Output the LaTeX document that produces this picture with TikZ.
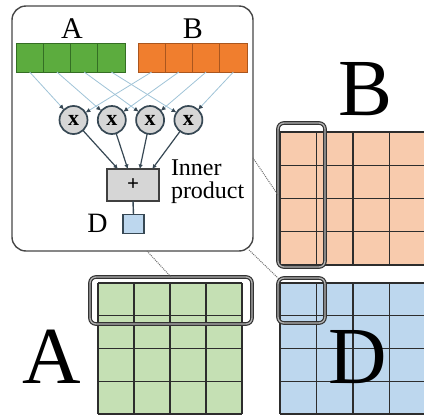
\documentclass[tikz,border=0pt]{standalone}
\usepackage{fontspec}
\setmainfont{Liberation Serif}
\usetikzlibrary{calc,arrows.meta}

\definecolor{barGreen}{RGB}{92,172,62}
\definecolor{barGreenEdge}{RGB}{52,110,36}
\definecolor{barOrange}{RGB}{240,126,46}
\definecolor{barOrangeEdge}{RGB}{170,86,30}
\definecolor{cellGreen}{RGB}{197,224,180}
\definecolor{cellOrange}{RGB}{248,203,173}
\definecolor{cellBlue}{RGB}{189,215,238}
\definecolor{feedBlue}{RGB}{160,196,216}
\definecolor{slate}{RGB}{55,72,84}
\definecolor{opGray}{RGB}{214,214,214}
\definecolor{gridInk}{RGB}{45,45,45}

\begin{document}
\begin{tikzpicture}[x=1pt,y=-1pt,
  every node/.style={inner sep=0pt, outer sep=0pt},
  panel/.style={draw=black!72, line width=1.4pt, rounded corners=14pt, fill=white},
  gcell/.style={rectangle, fill=barGreen, draw=barGreenEdge, line width=0.9pt,
                minimum width=27.25pt, minimum height=29pt},
  ocell/.style={rectangle, fill=barOrange, draw=barOrangeEdge, line width=0.9pt,
                minimum width=27.25pt, minimum height=29pt},
  mulnode/.style={circle, fill=opGray, draw=slate, line width=1.7pt, minimum size=28pt,
                  font=\bfseries\fontsize{22}{22}\selectfont},
  sumnode/.style={rectangle, fill=opGray, draw=black!75, line width=1.4pt,
                  minimum width=52pt, minimum height=32pt,
                  font=\bfseries\fontsize{21}{21}\selectfont},
  outcell/.style={rectangle, fill=cellBlue, draw=slate, line width=1.3pt,
                  minimum width=21pt, minimum height=19pt},
  feed/.style={draw=feedBlue, line width=0.8pt,
               -{Latex[length=5pt,width=4.5pt,color=slate]}},
  gather/.style={draw=slate, line width=1.2pt, -{Latex[length=4.5pt,width=4.5pt]}},
  gridline/.style={draw=gridInk, line width=1.4pt},
  picked/.style={rectangle, rounded corners=6pt, draw=black!80, line width=1.2pt,
                 double=black!30, double distance=1.3pt},
  link/.style={draw=black!55, densely dotted, line width=1pt},
  smallname/.style={font=\fontsize{30}{30}\selectfont},
  bigname/.style={font=\fontsize{81}{81}\selectfont}
]
\useasboundingbox (0,0) rectangle (424,418);

% ---- matrix B (orange) ----
\fill[cellOrange] (280,132) rectangle (426,265);
\foreach \i in {0,...,4} \draw[gridline] ({280+36.5*\i},132) -- ({280+36.5*\i},265);
\foreach \j in {0,...,4} \draw[gridline] (280,{132+33.25*\j}) -- (426,{132+33.25*\j});

% ---- matrix A (green) ----
\fill[cellGreen] (98,283) rectangle (242,414);
\foreach \i in {0,...,4} \draw[gridline] ({98+36*\i},283) -- ({98+36*\i},414);
\foreach \j in {0,...,4} \draw[gridline] (98,{283+32.75*\j}) -- (242,{283+32.75*\j});

% ---- matrix D (blue) ----
\fill[cellBlue] (280,283) rectangle (426,414);
\foreach \i in {0,...,4} \draw[gridline] ({280+36.5*\i},283) -- ({280+36.5*\i},414);
\foreach \j in {0,...,4} \draw[gridline] (280,{283+32.75*\j}) -- (426,{283+32.75*\j});

% ---- selected row / column / element ----
\node[picked, minimum width=47pt, minimum height=144pt] (selB) at (301.5,195) {};
\node[picked, minimum width=162pt, minimum height=47pt] (selA) at (171,300.5) {};
\node[picked, minimum width=47pt, minimum height=45pt] (selD) at (301.5,300.5) {};

% ---- big matrix names ----
\node[bigname] (nameB) at (366,89) {B};
\node[bigname] (nameA) at (51.5,357) {A};
\node[bigname] (nameD) at (357.5,357) {D};

% ---- inset panel ----
\node[panel, minimum width=241pt, minimum height=245pt] (inset) at (132.5,128.5) {};

% dotted call-out links
\draw[link] ($(inset.north east)!0.62!(inset.south east)$) -- (selB.west);
\draw[link] ($(inset.south east)+(-4,-1)$) -- (selD.north west);
\draw[link] ($(inset.south west)!0.56!(inset.south east)$) -- (selA.north);

% operand labels
\node[smallname] (labA) at (72,29) {A};
\node[smallname] (labB) at (193,29) {B};

% operand vectors
\foreach \k in {1,...,4} {
  \node[gcell] (g\k) at ({16+27.25*(\k-0.5)},57.5) {};
  \node[ocell] (o\k) at ({138+27.25*(\k-0.5)},57.5) {};
}

% multipliers
\foreach \k in {1,...,4} {
  \node[mulnode] (m\k) at ({73.5+38.3*(\k-1)},120) {x};
}

% element-wise products
\foreach \k in {1,...,4} {
  \draw[feed] (g\k.south) -- (m\k);
  \draw[feed] (o\k.south) -- (m\k);
}

% adder
\node[sumnode] (sum) at (133,185) {+};
\draw[gather] (m1) -- ($(sum.north west)!0.21!(sum.north east)$);
\draw[gather] (m2) -- ($(sum.north west)!0.40!(sum.north east)$);
\draw[gather] (m3) -- ($(sum.north west)!0.63!(sum.north east)$);
\draw[gather] (m4) -- ($(sum.north west)!0.87!(sum.north east)$);

\node[anchor=north west, align=left, font=\fontsize{24}{23}\selectfont] (ipname)
  at (171,160) {Inner\\product};

% output element
\node[outcell] (dout) at (133.5,224) {};
\draw[draw=slate, line width=1.4pt] (sum.south) -- (dout.north);
\node[font=\fontsize{28}{28}\selectfont] (labD) at (97.5,223) {D};

\end{tikzpicture}
\end{document}
